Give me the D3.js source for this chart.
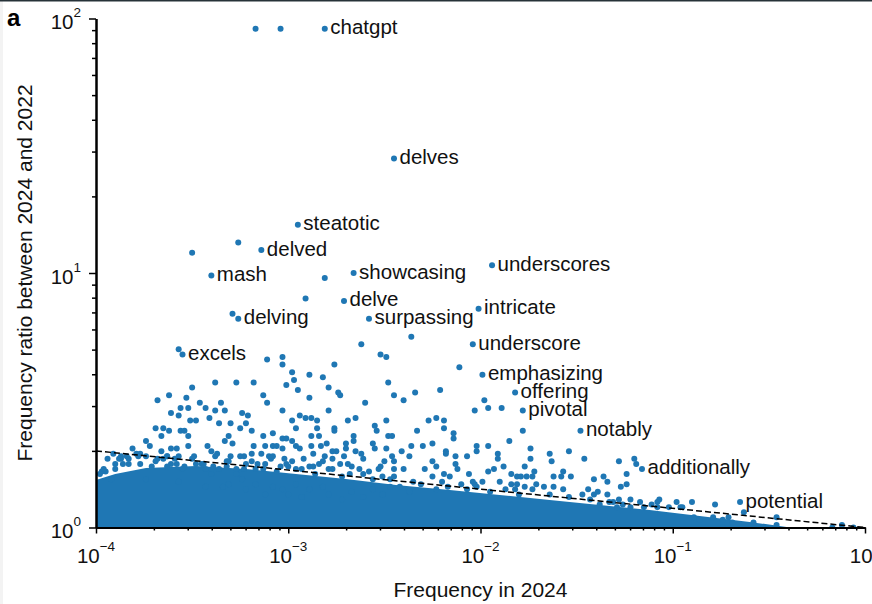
<!DOCTYPE html>
<html>
<head>
<meta charset="utf-8">
<script src="https://cdn.jsdelivr.net/npm/d3@7"></script>
<style>
  body { margin: 0; background: #fff; }
  svg { display: block; font-family: "Liberation Sans", Arial, sans-serif; }
</style>
</head>
<body>
<svg id="chart" width="872" height="604"></svg>
<script>
// Labelled words: log10(frequency in 2024), log10(ratio 2024/2022)
const words = ["chatgpt", "delves", "steatotic", "delved", "mash", "showcasing", "underscores",
  "delve", "intricate", "delving", "surpassing", "underscore", "excels", "emphasizing",
  "offering", "pivotal", "notably", "additionally", "potential"];
const wordLogFreq = [-2.81, -2.45, -2.95, -3.14, -3.40, -2.66, -1.94, -2.71, -2.01, -3.26,
  -2.58, -2.04, -3.55, -1.99, -1.82, -1.78, -1.48, -1.16, -0.65];
const wordLogRatio = [1.96, 1.45, 1.19, 1.09, 0.99, 1.00, 1.03, 0.89, 0.86, 0.82,
  0.82, 0.72, 0.68, 0.60, 0.53, 0.46, 0.38, 0.23, 0.10];

// Other words above the dense cloud: [log10 freq, log10 ratio]
const otherPoints = [
  [-3.17,1.96],[-3.04,1.96],[-3.26,1.12],[-3.50,1.08],[-2.81,0.98],[-2.91,0.90],[-3.29,0.84],
  [-2.36,0.75],[-2.62,0.72],[-3.57,0.70],[-2.11,0.63],
  [-3.11,0.66],[-3.03,0.67],[-2.52,0.68],[-2.49,0.67],[-3.03,0.64],[-2.76,0.64],[-2.98,0.61],
  [-2.89,0.60],[-2.82,0.59],[-3.38,0.57],[-3.27,0.57],[-3.18,0.57],[-3.01,0.56],[-2.97,0.58],
  [-2.95,0.54],[-2.79,0.55],[-2.74,0.53],[-2.73,0.52],[-2.48,0.57],[-2.45,0.52],[-2.34,0.53],
  [-2.21,0.54],[-1.98,0.50],[-1.96,0.47],[-3.50,0.55],[-3.62,0.52],[-3.68,0.50],[-3.53,0.51],
  [-3.46,0.49],[-3.13,0.52],[-3.11,0.49],[-3.35,0.49],[-2.89,0.51],[-2.60,0.49],[-2.40,0.50],
  [-3.56,0.47],[-3.52,0.47],[-3.43,0.47],[-3.38,0.46],[-3.33,0.46],[-3.61,0.45],[-3.57,0.44],
  [-3.41,0.43],[-3.24,0.45],[-3.21,0.44],[-3.03,0.46],[-2.79,0.46],[-2.98,0.42],[-2.94,0.44],
  [-2.91,0.43],[-2.88,0.43],[-2.85,0.42],[-2.69,0.42],[-2.65,0.43],[-2.49,0.42],[-2.27,0.42],
  [-2.23,0.43],[-2.19,0.42],[-2.03,0.46],[-3.69,0.39],[-3.65,0.39],[-3.62,0.38],[-3.56,0.38],
  [-3.54,0.38],[-3.22,0.41],[-3.30,0.41],[-3.25,0.39],[-3.19,0.38],[-3.13,0.36],[-3.08,0.37],
  [-3.03,0.35],[-3.01,0.35],[-2.98,0.34],[-2.85,0.39],[-2.76,0.39],[-2.76,0.38],[-2.70,0.33],
  [-2.66,0.34],[-2.55,0.40],[-2.54,0.38],[-2.48,0.36],[-2.46,0.36],[-2.33,0.38],[-2.19,0.39],
  [-2.14,0.37],[-2.14,0.35],[-3.74,0.34],[-3.66,0.36],[-3.52,0.36],[-3.33,0.34],[-3.31,0.36],
  [-3.29,0.33],[-3.42,0.32],[-3.52,0.32],[-3.61,0.31],[-3.66,0.30],[-3.72,0.32],[-3.18,0.32],
  [-3.12,0.32],[-3.08,0.32],[-3.03,0.31],[-2.94,0.31],[-2.88,0.32],[-2.83,0.32],[-2.80,0.33],
  [-2.75,0.30],[-2.70,0.31],[-2.65,0.30],[-2.55,0.31],[-2.49,0.31],[-2.41,0.30],[-2.36,0.32],
  [-2.30,0.32],[-2.25,0.33],[-2.18,0.30],[-2.02,0.32],[-1.96,0.32],[-3.81,0.31],[-3.91,0.29],
  [-3.87,0.28],[-1.89,0.47],[-1.78,0.38],[-1.85,0.34],[-1.74,0.31],[-1.54,0.30],[-1.46,0.27],
  [-1.28,0.26],[-1.20,0.27],[-1.19,0.25],[-1.24,0.21],[-1.24,0.17],[-1.27,0.16],[-1.36,0.20],
  [-1.34,0.18],[-1.41,0.19],[-1.44,0.15],[-1.53,0.20],[-1.58,0.20],[-1.57,0.22],[-1.62,0.20],
  [-1.74,0.27],[-1.77,0.24],[-1.72,0.22],[-1.73,0.20],[-1.64,0.29],[-1.63,0.26],[-1.76,0.20],
  [-1.81,0.17],[-1.77,0.16],[-1.84,0.21],[-1.88,0.24],[-1.91,0.29],[-2.02,0.30],[-2.07,0.28],
  [-2.13,0.28],[-2.13,0.25],[-2.25,0.26],[-2.29,0.23],[-2.25,0.20],[-2.16,0.20],[-2.19,0.21],
  [-2.23,0.24],[-2.06,0.21],[-2.03,0.17],[-1.93,0.23],[-1.96,0.22],[-1.81,0.20],[-1.79,0.20],
  [-1.62,0.16],[-1.67,0.16],[-1.41,0.13],[-1.31,0.10],[-1.11,0.09],[-0.98,0.10],[-0.90,0.10],
  [-0.78,0.09],[-1.07,0.11],[-0.46,0.04],[-0.96,0.08],[-0.89,0.04],[-0.86,0.03],[-0.79,0.04],
  [-0.74,0.03],[-0.71,0.04],[-0.63,0.06],[-0.58,0.02],[-0.46,0.01],[-0.69,0.02],[-0.12,0.01],
  [-0.06,0.00],[-0.17,0.00],[-0.53,0.00],[-0.74,0.00],[-2.46,0.28],[-2.37,0.28],[-2.18,0.29],
  [-1.91,0.27],[-2.45,0.23],[-2.40,0.23],[-2.12,0.23],[-2.35,0.18],[-2.20,0.18],[-2.10,0.17],
  [-2.04,0.18],[-1.99,0.18],[-1.90,0.18],[-1.84,0.17],[-1.82,0.15],[-1.71,0.17],[-1.57,0.15],
  [-1.47,0.13],[-1.39,0.14],[-1.34,0.13],[-1.28,0.11],[-1.22,0.11],[-1.17,0.10],[-1.15,0.08],
  [-1.02,0.08],[-1.08,0.08],[-1.22,0.08],[-1.29,0.08],[-1.38,0.09],[-3.51,0.42],[-3.48,0.42],
  [-3.36,0.41],[-2.96,0.39],[-2.96,0.32],[-2.88,0.36],[-2.84,0.36],[-2.66,0.36],[-2.56,0.33],
  [-3.77,0.29],[-3.58,0.31],[-3.63,0.28],[-3.40,0.30],[-3.37,0.29],[-3.30,0.28],[-3.25,0.28],
  [-3.19,0.29],[-3.14,0.29],[-3.10,0.28],[-3.06,0.32],[-3.02,0.27],[-2.87,0.29],[-2.81,0.28],
  [-2.77,0.30],[-2.71,0.28],[-2.62,0.29],[-3.97,0.22],[-3.95,0.22],[-3.92,0.19],[-3.88,0.27],
  [-3.86,0.25],[-3.83,0.27],[-3.77,0.25],[-3.71,0.24],[-3.65,0.27],[-3.61,0.25],[-3.57,0.28],
  [-3.54,0.24],[-3.48,0.25],[-3.43,0.23],[-3.39,0.24],[-3.32,0.24],[-3.27,0.23],[-3.22,0.25],
  [-3.17,0.23],[-3.12,0.25],[-3.06,0.22],[-3.00,0.24],[-2.96,0.23],[-2.89,0.24],[-2.86,0.21],
  [-2.79,0.23],[-2.73,0.25],[-2.68,0.21],[-2.63,0.23],[-2.58,0.22],[-2.53,0.23],[-2.50,0.26],
  [-2.47,0.19],[-2.45,0.20],[-3.74,0.19],[-3.57,0.18],[-3.43,0.16],[-3.31,0.17],[-3.24,0.19],
  [-3.17,0.17],[-3.08,0.16],[-3.03,0.15],[-2.96,0.17],[-2.89,0.15],[-2.82,0.16],[-2.79,0.13],
  [-2.72,0.11],[-2.67,0.14],[-2.61,0.12],[-2.56,0.15],[-2.51,0.13],[-2.93,0.12],[-3.00,0.13],
  [-3.12,0.13],[-3.22,0.15],[-3.34,0.16]
];

// Words crowding the top of the dense cloud: [log10 freq, log10 ratio]
const edgePoints = [
  [-3.98,0.21],[-3.96,0.23],[-3.90,0.25],[-3.87,0.27],[-3.84,0.28],[-3.79,0.29],[-3.74,0.28],
  [-3.69,0.26],[-3.63,0.24],[-3.59,0.27],[-3.55,0.23],[-3.50,0.27],[-3.45,0.25],[-3.40,0.21],
  [-3.36,0.23],[-3.32,0.26],[-3.27,0.21],[-3.23,0.23],[-3.19,0.26],[-3.13,0.23],[-3.09,0.27],
  [-3.04,0.24],[-2.98,0.26],[-2.93,0.23],[-2.87,0.24],[-2.82,0.26],[-2.77,0.23],[-2.72,0.20],
  [-2.67,0.24],[-2.61,0.21],[-2.56,0.19],[-2.51,0.20],[-2.47,0.16],[-2.42,0.16],[-2.37,0.14],
  [-2.31,0.17],[-2.23,0.15],[-2.17,0.16],[-2.07,0.15],[-2.02,0.16],[-1.95,0.14],[-1.87,0.15],
  [-1.80,0.13],[-1.73,0.15],[-1.64,0.13],[-1.54,0.12],[-1.43,0.11],[-1.33,0.10],[-1.26,0.09],
  [-1.08,0.10],[-0.95,0.08],
  [-3.94,0.27],[-3.90,0.23],[-3.83,0.25],[-3.78,0.28],[-3.68,0.27],[-3.63,0.28],[-3.58,0.25],
  [-3.49,0.28],[-3.44,0.25],[-3.38,0.28],[-3.31,0.26],[-3.23,0.28],[-3.16,0.25],[-3.08,0.28],
  [-3.01,0.25],[-2.92,0.27],[-2.84,0.25],[-2.77,0.27],[-2.69,0.25],[-2.61,0.27],[-2.52,0.24],
  [-2.45,0.26]
];

// Upper edge of the solid cloud of common words: [log10 freq, log10 ratio]
const denseEdge = [
  [-4.00,0.187],[-3.90,0.210],[-3.74,0.234],[-3.48,0.242],[-3.22,0.230],[-2.96,0.210],
  [-2.70,0.191],[-2.44,0.167],[-2.16,0.147],[-1.90,0.128],[-1.64,0.108],[-1.38,0.088],
  [-1.12,0.069],[-0.86,0.045],[-0.60,0.022],[-0.39,0.0]
];

// Dashed threshold line
const thresholdFreq = [1e-4, 1];
const thresholdRatio = [2, 1];

const xTickExps = [-4, -3, -2, -1, 0];
const yTickExps = [0, 1, 2];

const blue = "#1f77b4";
const svg = d3.select("#chart");

// frame bits of the screenshot
svg.append("rect").attr("x", 0).attr("y", 0).attr("width", 3).attr("height", 604).attr("fill", "#f3f3f3");
svg.append("rect").attr("x", 0).attr("y", 0).attr("width", 872).attr("height", 1.5).attr("fill", "#263238");

const plotLeft = 96, plotRight = 865, plotTop = 18.5, plotBottom = 527.5;

const x = d3.scaleLog().domain([1e-4, 1]).range([plotLeft, plotRight]);
const y = d3.scaleLog().domain([1, 100]).range([plotBottom, plotTop]);

svg.append("defs").append("clipPath").attr("id", "plot")
  .append("rect").attr("x", plotLeft).attr("y", plotTop)
  .attr("width", plotRight - plotLeft).attr("height", plotBottom - plotTop);

const plot = svg.append("g").attr("clip-path", "url(#plot)");

// dense cloud
const area = d3.area()
  .x(d => x(Math.pow(10, d[0])))
  .y0(y(1))
  .y1(d => y(Math.pow(10, d[1])));

plot.append("path")
  .datum(denseEdge)
  .attr("d", area)
  .attr("fill", blue);

const toPoint = d => ({f: Math.pow(10, d[0]), r: Math.pow(10, d[1])});
const pts = otherPoints.concat(edgePoints).map(toPoint);
const labelled = words.map((w, i) => ({word: w, f: Math.pow(10, wordLogFreq[i]), r: Math.pow(10, wordLogRatio[i])}));

plot.selectAll("circle.other")
  .data(pts)
  .join("circle")
  .attr("class", "other")
  .attr("cx", d => x(d.f))
  .attr("cy", d => y(d.r))
  .attr("r", 3)
  .attr("fill", blue);

plot.selectAll("circle.word")
  .data(labelled)
  .join("circle")
  .attr("class", "word")
  .attr("cx", d => x(d.f))
  .attr("cy", d => y(d.r))
  .attr("r", 3)
  .attr("fill", blue);

// threshold line
svg.append("line")
  .attr("x1", x(thresholdFreq[0])).attr("y1", y(thresholdRatio[0]))
  .attr("x2", x(thresholdFreq[1])).attr("y2", y(thresholdRatio[1]))
  .attr("stroke", "#000")
  .attr("stroke-width", 1.5)
  .attr("stroke-dasharray", "6,3");

// word labels
svg.selectAll("text.word")
  .data(labelled)
  .join("text")
  .attr("class", "word")
  .attr("x", d => x(d.f) + 5.5)
  .attr("y", d => y(d.r) + 5.5)
  .attr("font-size", 20.5)
  .attr("fill", "#111")
  .text(d => d.word);

// axes
const xMajor = xTickExps.map(e => Math.pow(10, e));
const yMajor = yTickExps.map(e => Math.pow(10, e));
const xMinor = [], yMinor = [];
xTickExps.slice(0, -1).forEach(e => d3.range(2, 10).forEach(k => xMinor.push(k * Math.pow(10, e))));
yTickExps.slice(0, -1).forEach(e => d3.range(2, 10).forEach(k => yMinor.push(k * Math.pow(10, e))));

function styleAxis(g) {
  g.select(".domain").attr("stroke", "#000").attr("stroke-width", 2);
  g.selectAll(".tick line").attr("stroke", "#000").attr("stroke-width", 1.5);
}

svg.append("g")
  .attr("transform", `translate(0,${plotBottom})`)
  .call(d3.axisBottom(x).tickValues(xMinor).tickSize(3).tickSizeOuter(0).tickFormat(""))
  .call(styleAxis);
svg.append("g")
  .attr("transform", `translate(0,${plotBottom})`)
  .call(d3.axisBottom(x).tickValues(xMajor).tickSize(6).tickSizeOuter(0).tickFormat(""))
  .call(styleAxis);
svg.append("g")
  .attr("transform", `translate(${plotLeft},0)`)
  .call(d3.axisLeft(y).tickValues(yMinor).tickSize(4).tickSizeOuter(0).tickFormat(""))
  .call(styleAxis);
svg.append("g")
  .attr("transform", `translate(${plotLeft},0)`)
  .call(d3.axisLeft(y).tickValues(yMajor).tickSize(7).tickSizeOuter(0).tickFormat(""))
  .call(styleAxis);

// tick labels as 10^n
const expText = e => (e < 0 ? "\u2212" + (-e) : String(e));

xTickExps.forEach(e => {
  const t = svg.append("text")
    .attr("x", x(Math.pow(10, e)))
    .attr("y", 563)
    .attr("text-anchor", "middle")
    .attr("font-size", 20.5)
    .attr("fill", "#111");
  t.append("tspan").text("10");
  t.append("tspan").attr("dy", -12).attr("font-size", 13.5).text(expText(e));
});

yTickExps.forEach(e => {
  const t = svg.append("text")
    .attr("x", 81)
    .attr("y", y(Math.pow(10, e)) + 10.5)
    .attr("text-anchor", "end")
    .attr("font-size", 20.5)
    .attr("fill", "#111");
  t.append("tspan").text("10");
  t.append("tspan").attr("dy", -12).attr("font-size", 13.5).text(expText(e));
});

// axis titles
svg.append("text")
  .attr("x", (plotLeft + plotRight) / 2)
  .attr("y", 597)
  .attr("text-anchor", "middle")
  .attr("font-size", 21)
  .attr("fill", "#111")
  .text("Frequency in 2024");

svg.append("text")
  .attr("transform", `translate(32,${(plotTop + plotBottom) / 2}) rotate(-90)`)
  .attr("text-anchor", "middle")
  .attr("font-size", 21)
  .attr("fill", "#111")
  .text("Frequency ratio between 2024 and 2022");

// panel letter
svg.append("text")
  .attr("x", 7)
  .attr("y", 26)
  .attr("font-size", 24)
  .attr("font-weight", "bold")
  .attr("fill", "#000")
  .text("a");
</script>
</body>
</html>
